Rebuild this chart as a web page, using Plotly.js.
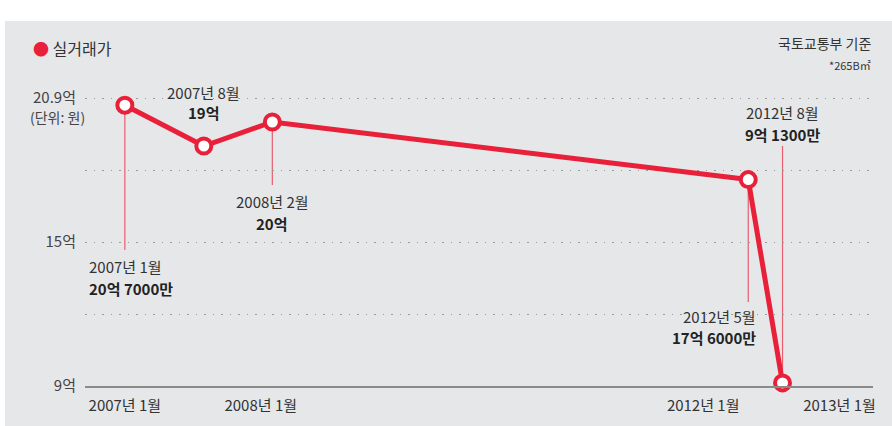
<!DOCTYPE html>
<html>
<head>
<meta charset="utf-8">
<script src="https://cdn.plot.ly/plotly-3.0.1.min.js"></script>
<style>html,body{margin:0;padding:0;background:#fff}#chart{width:892px;height:426px}</style>
</head>
<body>
<div id="chart"></div>
<script>
// ---- data ----
const dates = ['2007-01-01', '2007-08-01', '2008-02-01', '2012-05-01', '2012-08-01'];
const prices = [20.7, 19, 20, 17.6, 9.13];           // 억 원
const dateLabels = ['2007년 1월', '2007년 8월', '2008년 2월', '2012년 5월', '2012년 8월'];
const priceLabels = ['20억 7000만', '19억', '20억', '17억 6000만', '9억 1300만'];
const xTickVals = ['2007-01-01', '2008-01-01', '2012-01-01', '2013-01-01'];
const xTickText = ['2007년 1월', '2008년 1월', '2012년 1월', '2013년 1월'];
const yTickVals = [9, 12, 15, 18, 21];
const yTickText = ['9억', '', '15억', '', '20.9억'];

// ---- style ----
const RED = '#e9203a';
const LEAD = '#ea5d6d';
const TXT = '#333';
const FONT = '"Noto Sans CJK KR", "Noto Sans", sans-serif';

// label placement per point: [dateY, valueY, xanchor, xshift, leaderEndY]
const place = [
  [13.96, 13.08, 'left', -38, 14.67],
  [21.21, 20.38, 'center', 0, null],
  [16.67, 15.79, 'center', 0, 17.37],
  [11.88, 11.04, 'right', 10, 12.5],
  [20.38, 19.46, 'center', 0, 19.0]
];

const annotations = [];
const shapes = [{
  type: 'rect', xref: 'paper', yref: 'paper',
  x0: -0.1015, x1: 1.03, y0: -0.14, y1: 1.17,
  fillcolor: '#e6e7e9', line: {width: 0}, layer: 'below'
}];

dates.forEach((d, i) => {
  const p = place[i];
  annotations.push({x: d, y: p[0], xref: 'x', yref: 'y', text: dateLabels[i], showarrow: false,
    xanchor: p[2], xshift: p[3], yanchor: 'middle', font: {size: 15, color: TXT, family: FONT}});
  annotations.push({x: d, y: p[1], xref: 'x', yref: 'y', text: '<b>' + priceLabels[i] + '</b>', showarrow: false,
    xanchor: p[2], xshift: p[3], yanchor: 'middle', font: {size: 15, color: '#222', family: FONT}});
  if (p[4] !== null) {
    const last = i === dates.length - 1;
    shapes.push({type: 'line', xref: 'x', yref: 'y', x0: d, x1: d,
      y0: last ? p[4] : prices[i], y1: last ? prices[i] : p[4],
      line: {color: LEAD, width: 1.2}, layer: 'below'});
  }
});

annotations.push({xref: 'paper', yref: 'y', x: -0.0355, y: 20.2, text: '(단위: 원)', showarrow: false,
  xanchor: 'center', yanchor: 'middle', font: {size: 14, color: '#444', family: FONT}});
annotations.push({xref: 'paper', yref: 'paper', x: -0.068, y: 1.083,
  text: '<span style="color:' + RED + '">●</span> 실거래가', showarrow: false,
  xanchor: 'left', yanchor: 'middle', font: {size: 16, color: TXT, family: FONT}});
annotations.push({xref: 'paper', yref: 'paper', x: 1.0, y: 1.1, text: '국토교통부 기준', showarrow: false,
  xanchor: 'right', yanchor: 'middle', font: {size: 14, color: TXT, family: FONT}});
annotations.push({xref: 'paper', yref: 'paper', x: 1.0, y: 1.03, text: '*265B㎡', showarrow: false,
  xanchor: 'right', yanchor: 'middle', font: {size: 11, color: TXT, family: FONT}});

const trace = {
  x: dates, y: prices, type: 'scatter', mode: 'lines+markers',
  line: {color: RED, width: 5},
  marker: {size: 15, color: '#fff', line: {color: RED, width: 4}},
  hoverinfo: 'skip', cliponaxis: false
};

const layout = {
  width: 892, height: 426,
  margin: {l: 85, r: 19, t: 74, b: 40},
  paper_bgcolor: '#fff', plot_bgcolor: 'rgba(0,0,0,0)',
  showlegend: false,
  font: {family: FONT, color: TXT, size: 15},
  xaxis: {
    type: 'date', range: ['2006-09-16', '2013-04-01'],
    rangebreaks: [{bounds: ['2009-01-01', '2009-10-01']}],
    tickvals: xTickVals, ticktext: xTickText, showgrid: false, zeroline: false,
    showline: true, linecolor: '#8a8a8a', linewidth: 1.5, ticks: '',
    ticklabelstandoff: 5, tickfont: {size: 15, color: TXT, family: FONT}
  },
  yaxis: {
    range: [9, 22], tickvals: yTickVals, ticktext: yTickText,
    showgrid: true, gridcolor: '#9a9a9a', gridwidth: 1, griddash: '1.5px,7px',
    zeroline: false, showline: false, ticks: '', ticklabelstandoff: 8,
    tickfont: {size: 15, color: '#444', family: FONT}
  },
  shapes: shapes,
  annotations: annotations
};

Plotly.newPlot('chart', [trace], layout, {displayModeBar: false, staticPlot: true});
</script>
</body>
</html>
